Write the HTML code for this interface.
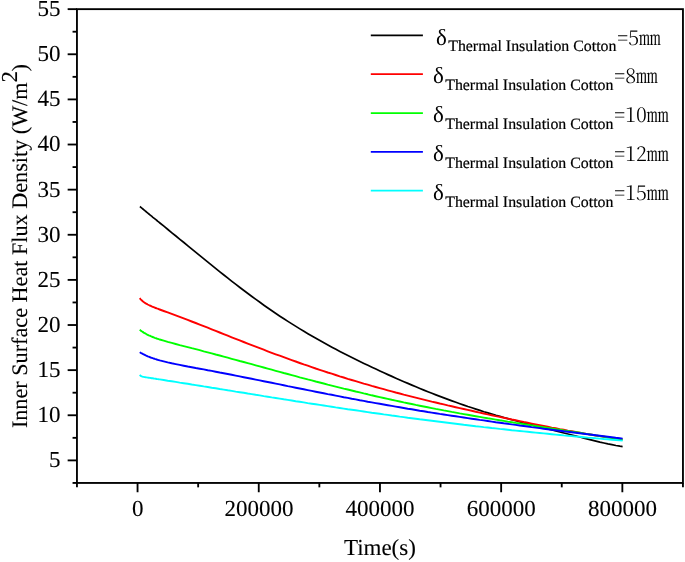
<!DOCTYPE html>
<html lang="en">
<head>
<meta charset="utf-8">
<title>Inner Surface Heat Flux Density</title>
<style>
html,body{margin:0;padding:0;background:#fff;}
body{width:685px;height:562px;overflow:hidden;}
svg{display:block;text-rendering:geometricPrecision;}
.t{font-family:"Liberation Serif","Noto Serif CJK SC",serif;fill:#000;}
.hw{font-family:"Noto Serif CJK SC","Liberation Serif",serif;font-feature-settings:"hwid";font-weight:300;fill:#000;}
</style>
</head>
<body>
<svg width="685" height="562" viewBox="0 0 685 562">
<rect width="685" height="562" fill="#ffffff"/>

<g stroke="#000" stroke-width="1.85" fill="none" stroke-linecap="butt">
<rect x="76.95" y="9.15" width="606.00" height="473.80"/>
<line x1="67.65" y1="9.15" x2="76.95" y2="9.15"/>
<line x1="72.55" y1="31.71" x2="76.95" y2="31.71"/>
<line x1="67.65" y1="54.27" x2="76.95" y2="54.27"/>
<line x1="72.55" y1="76.84" x2="76.95" y2="76.84"/>
<line x1="67.65" y1="99.40" x2="76.95" y2="99.40"/>
<line x1="72.55" y1="121.96" x2="76.95" y2="121.96"/>
<line x1="67.65" y1="144.52" x2="76.95" y2="144.52"/>
<line x1="72.55" y1="167.08" x2="76.95" y2="167.08"/>
<line x1="67.65" y1="189.65" x2="76.95" y2="189.65"/>
<line x1="72.55" y1="212.21" x2="76.95" y2="212.21"/>
<line x1="67.65" y1="234.77" x2="76.95" y2="234.77"/>
<line x1="72.55" y1="257.33" x2="76.95" y2="257.33"/>
<line x1="67.65" y1="279.89" x2="76.95" y2="279.89"/>
<line x1="72.55" y1="302.45" x2="76.95" y2="302.45"/>
<line x1="67.65" y1="325.02" x2="76.95" y2="325.02"/>
<line x1="72.55" y1="347.58" x2="76.95" y2="347.58"/>
<line x1="67.65" y1="370.14" x2="76.95" y2="370.14"/>
<line x1="72.55" y1="392.70" x2="76.95" y2="392.70"/>
<line x1="67.65" y1="415.26" x2="76.95" y2="415.26"/>
<line x1="72.55" y1="437.83" x2="76.95" y2="437.83"/>
<line x1="67.65" y1="460.39" x2="76.95" y2="460.39"/>
<line x1="72.55" y1="482.95" x2="76.95" y2="482.95"/>
<line x1="76.95" y1="482.95" x2="76.95" y2="487.35"/>
<line x1="137.55" y1="482.95" x2="137.55" y2="492.25"/>
<line x1="198.15" y1="482.95" x2="198.15" y2="487.35"/>
<line x1="258.75" y1="482.95" x2="258.75" y2="492.25"/>
<line x1="319.35" y1="482.95" x2="319.35" y2="487.35"/>
<line x1="379.95" y1="482.95" x2="379.95" y2="492.25"/>
<line x1="440.55" y1="482.95" x2="440.55" y2="487.35"/>
<line x1="501.15" y1="482.95" x2="501.15" y2="492.25"/>
<line x1="561.75" y1="482.95" x2="561.75" y2="487.35"/>
<line x1="622.35" y1="482.95" x2="622.35" y2="492.25"/>
<line x1="682.95" y1="482.95" x2="682.95" y2="487.35"/>
</g>
<g fill="none" stroke-width="2" stroke-linejoin="round" stroke-linecap="butt">
<polyline stroke="#000000" stroke-width="1.7" points="139.9,206.5 140.9,207.3 141.9,208.2 142.9,209.0 143.9,209.8 144.9,210.7 145.9,211.5 146.9,212.3 147.9,213.2 148.9,214.0 149.9,214.8 150.9,215.6 151.9,216.4 152.9,217.3 153.9,218.1 154.9,218.9 155.9,219.7 156.9,220.5 157.9,221.4 158.9,222.2 159.9,223.0 163.9,226.2 167.9,229.5 171.9,232.8 175.9,236.0 179.9,239.3 183.9,242.5 187.9,245.8 191.9,249.1 195.9,252.4 199.9,255.6 203.9,258.9 207.9,262.1 211.9,265.4 215.9,268.6 219.9,271.8 223.9,275.0 227.9,278.2 231.9,281.3 235.9,284.4 239.9,287.5 243.9,290.5 247.9,293.5 251.9,296.5 255.9,299.4 259.9,302.3 263.9,305.2 267.9,308.0 271.9,310.8 275.9,313.5 279.9,316.2 283.9,318.8 287.9,321.4 291.9,323.9 295.9,326.4 299.9,328.9 303.9,331.3 307.9,333.7 311.9,336.0 315.9,338.3 319.9,340.6 323.9,342.8 327.9,345.0 331.9,347.2 335.9,349.3 339.9,351.4 343.9,353.5 347.9,355.5 351.9,357.5 355.9,359.5 359.9,361.5 363.9,363.4 367.9,365.3 371.9,367.2 375.9,369.1 379.9,371.0 383.9,372.8 387.9,374.6 391.9,376.4 395.9,378.2 399.9,380.0 403.9,381.7 407.9,383.4 411.9,385.1 415.9,386.8 419.9,388.5 423.9,390.1 427.9,391.7 431.9,393.3 435.9,394.9 439.9,396.4 443.9,397.9 447.9,399.4 451.9,400.9 455.9,402.3 459.9,403.7 463.9,405.1 467.9,406.5 471.9,407.8 475.9,409.1 479.9,410.4 483.9,411.7 487.9,412.9 491.9,414.1 495.9,415.3 499.9,416.4 503.9,417.5 507.9,418.6 511.9,419.7 515.9,420.8 519.9,421.9 523.9,422.9 527.9,423.9 531.9,424.9 535.9,425.9 539.9,426.9 543.9,427.9 547.9,428.9 551.9,429.9 555.9,430.9 559.9,432.0 563.9,433.0 567.9,434.0 571.9,435.0 575.9,436.0 579.9,437.0 583.9,438.1 587.9,439.1 591.9,440.1 595.9,441.1 599.9,442.1 603.9,443.0 607.9,443.9 611.9,444.7 615.9,445.5 619.9,446.2 622.6,446.6"/>
<polyline stroke="#ff0000" stroke-width="1.9" points="139.7,298.2 140.7,299.3 141.7,300.3 142.7,301.2 143.7,302.0 144.7,302.7 145.7,303.4 146.7,303.9 147.7,304.5 148.7,305.0 149.7,305.5 150.7,305.9 151.7,306.4 152.7,306.8 153.7,307.2 154.7,307.6 155.7,308.0 156.7,308.4 157.7,308.7 158.7,309.1 159.7,309.5 163.7,311.0 167.7,312.4 171.7,313.9 175.7,315.4 179.7,316.9 183.7,318.4 187.7,319.9 191.7,321.5 195.7,323.0 199.7,324.6 203.7,326.2 207.7,327.7 211.7,329.3 215.7,330.9 219.7,332.5 223.7,334.1 227.7,335.7 231.7,337.3 235.7,338.8 239.7,340.4 243.7,342.0 247.7,343.6 251.7,345.1 255.7,346.7 259.7,348.2 263.7,349.7 267.7,351.3 271.7,352.8 275.7,354.3 279.7,355.7 283.7,357.2 287.7,358.7 291.7,360.1 295.7,361.5 299.7,363.0 303.7,364.4 307.7,365.7 311.7,367.1 315.7,368.5 319.7,369.8 323.7,371.1 327.7,372.5 331.7,373.7 335.7,375.0 339.7,376.3 343.7,377.5 347.7,378.8 351.7,380.0 355.7,381.2 359.7,382.4 363.7,383.6 367.7,384.7 371.7,385.9 375.7,387.0 379.7,388.1 383.7,389.2 387.7,390.3 391.7,391.4 395.7,392.5 399.7,393.5 403.7,394.6 407.7,395.6 411.7,396.6 415.7,397.6 419.7,398.6 423.7,399.6 427.7,400.6 431.7,401.6 435.7,402.5 439.7,403.5 443.7,404.4 447.7,405.4 451.7,406.3 455.7,407.2 459.7,408.1 463.7,409.0 467.7,409.9 471.7,410.8 475.7,411.7 479.7,412.6 483.7,413.5 487.7,414.4 491.7,415.2 495.7,416.1 499.7,416.9 503.7,417.8 507.7,418.6 511.7,419.5 515.7,420.3 519.7,421.1 523.7,422.0 527.7,422.8 531.7,423.6 535.7,424.4 539.7,425.2 543.7,426.0 547.7,426.8 551.7,427.6 555.7,428.3 559.7,429.1 563.7,429.8 567.7,430.6 571.7,431.3 575.7,432.0 579.7,432.7 583.7,433.4 587.7,434.1 591.7,434.8 595.7,435.5 599.7,436.1 603.7,436.7 607.7,437.3 611.7,437.9 615.7,438.5 619.7,439.0 622.6,439.4"/>
<polyline stroke="#00ff00" stroke-width="1.9" points="139.7,329.8 140.7,330.6 141.7,331.3 142.7,331.9 143.7,332.6 144.7,333.2 145.7,333.7 146.7,334.3 147.7,334.8 148.7,335.3 149.7,335.7 150.7,336.2 151.7,336.6 152.7,337.0 153.7,337.4 154.7,337.8 155.7,338.1 156.7,338.5 157.7,338.8 158.7,339.2 159.7,339.5 163.7,340.7 167.7,341.9 171.7,342.9 175.7,344.0 179.7,345.1 183.7,346.1 187.7,347.1 191.7,348.2 195.7,349.2 199.7,350.2 203.7,351.3 207.7,352.3 211.7,353.4 215.7,354.5 219.7,355.5 223.7,356.6 227.7,357.7 231.7,358.8 235.7,359.9 239.7,361.0 243.7,362.0 247.7,363.1 251.7,364.2 255.7,365.3 259.7,366.4 263.7,367.5 267.7,368.6 271.7,369.7 275.7,370.8 279.7,371.9 283.7,373.0 287.7,374.0 291.7,375.1 295.7,376.2 299.7,377.3 303.7,378.3 307.7,379.4 311.7,380.4 315.7,381.5 319.7,382.5 323.7,383.5 327.7,384.6 331.7,385.6 335.7,386.6 339.7,387.6 343.7,388.6 347.7,389.5 351.7,390.5 355.7,391.5 359.7,392.4 363.7,393.4 367.7,394.3 371.7,395.3 375.7,396.2 379.7,397.1 383.7,398.0 387.7,398.9 391.7,399.8 395.7,400.6 399.7,401.5 403.7,402.4 407.7,403.2 411.7,404.0 415.7,404.9 419.7,405.7 423.7,406.5 427.7,407.3 431.7,408.1 435.7,408.9 439.7,409.6 443.7,410.4 447.7,411.1 451.7,411.9 455.7,412.6 459.7,413.4 463.7,414.1 467.7,414.8 471.7,415.5 475.7,416.2 479.7,416.9 483.7,417.6 487.7,418.3 491.7,418.9 495.7,419.6 499.7,420.3 503.7,420.9 507.7,421.6 511.7,422.2 515.7,422.9 519.7,423.5 523.7,424.1 527.7,424.8 531.7,425.4 535.7,426.0 539.7,426.6 543.7,427.3 547.7,427.9 551.7,428.5 555.7,429.1 559.7,429.7 563.7,430.4 567.7,431.0 571.7,431.6 575.7,432.2 579.7,432.8 583.7,433.5 587.7,434.1 591.7,434.7 595.7,435.4 599.7,436.0 603.7,436.6 607.7,437.3 611.7,438.0 615.7,438.6 619.7,439.3 622.6,439.8"/>
<polyline stroke="#00ffff" stroke-width="1.9" points="139.7,374.8 140.7,375.9 141.7,376.4 142.7,376.7 143.7,376.9 144.7,377.1 145.7,377.3 146.7,377.4 147.7,377.6 148.7,377.7 149.7,377.9 150.7,378.0 151.7,378.2 152.7,378.3 153.7,378.5 154.7,378.6 155.7,378.8 156.7,379.0 157.7,379.1 158.7,379.3 159.7,379.4 163.7,380.0 167.7,380.7 171.7,381.3 175.7,381.9 179.7,382.6 183.7,383.2 187.7,383.8 191.7,384.5 195.7,385.1 199.7,385.7 203.7,386.4 207.7,387.0 211.7,387.7 215.7,388.3 219.7,389.0 223.7,389.6 227.7,390.3 231.7,390.9 235.7,391.6 239.7,392.2 243.7,392.8 247.7,393.5 251.7,394.1 255.7,394.8 259.7,395.4 263.7,396.1 267.7,396.7 271.7,397.4 275.7,398.0 279.7,398.6 283.7,399.3 287.7,399.9 291.7,400.5 295.7,401.2 299.7,401.8 303.7,402.4 307.7,403.1 311.7,403.7 315.7,404.3 319.7,404.9 323.7,405.5 327.7,406.1 331.7,406.7 335.7,407.4 339.7,408.0 343.7,408.6 347.7,409.2 351.7,409.7 355.7,410.3 359.7,410.9 363.7,411.5 367.7,412.1 371.7,412.7 375.7,413.2 379.7,413.8 383.7,414.4 387.7,414.9 391.7,415.5 395.7,416.0 399.7,416.6 403.7,417.1 407.7,417.7 411.7,418.2 415.7,418.7 419.7,419.3 423.7,419.8 427.7,420.3 431.7,420.8 435.7,421.3 439.7,421.8 443.7,422.3 447.7,422.8 451.7,423.3 455.7,423.8 459.7,424.3 463.7,424.8 467.7,425.2 471.7,425.7 475.7,426.2 479.7,426.6 483.7,427.1 487.7,427.5 491.7,428.0 495.7,428.4 499.7,428.9 503.7,429.3 507.7,429.7 511.7,430.2 515.7,430.6 519.7,431.0 523.7,431.4 527.7,431.8 531.7,432.2 535.7,432.6 539.7,433.0 543.7,433.4 547.7,433.8 551.7,434.2 555.7,434.6 559.7,435.0 563.7,435.4 567.7,435.7 571.7,436.1 575.7,436.5 579.7,436.8 583.7,437.2 587.7,437.6 591.7,437.9 595.7,438.3 599.7,438.6 603.7,439.0 607.7,439.3 611.7,439.7 615.7,440.0 619.7,440.4 622.6,440.6"/>
<polyline stroke="#0000ff" stroke-width="1.9" points="139.7,352.2 140.7,352.8 141.7,353.3 142.7,353.9 143.7,354.4 144.7,354.9 145.7,355.4 146.7,355.8 147.7,356.3 148.7,356.7 149.7,357.1 150.7,357.5 151.7,357.8 152.7,358.2 153.7,358.5 154.7,358.9 155.7,359.2 156.7,359.5 157.7,359.8 158.7,360.1 159.7,360.4 163.7,361.4 167.7,362.4 171.7,363.3 175.7,364.1 179.7,364.9 183.7,365.7 187.7,366.5 191.7,367.2 195.7,368.0 199.7,368.7 203.7,369.4 207.7,370.2 211.7,370.9 215.7,371.7 219.7,372.5 223.7,373.2 227.7,374.0 231.7,374.8 235.7,375.6 239.7,376.4 243.7,377.2 247.7,378.0 251.7,378.8 255.7,379.6 259.7,380.4 263.7,381.2 267.7,382.0 271.7,382.8 275.7,383.6 279.7,384.4 283.7,385.2 287.7,386.1 291.7,386.9 295.7,387.7 299.7,388.5 303.7,389.3 307.7,390.1 311.7,390.9 315.7,391.7 319.7,392.5 323.7,393.3 327.7,394.1 331.7,394.8 335.7,395.6 339.7,396.4 343.7,397.2 347.7,397.9 351.7,398.7 355.7,399.4 359.7,400.2 363.7,400.9 367.7,401.7 371.7,402.4 375.7,403.1 379.7,403.8 383.7,404.5 387.7,405.2 391.7,405.9 395.7,406.6 399.7,407.3 403.7,408.0 407.7,408.7 411.7,409.3 415.7,410.0 419.7,410.7 423.7,411.3 427.7,412.0 431.7,412.6 435.7,413.2 439.7,413.9 443.7,414.5 447.7,415.1 451.7,415.7 455.7,416.3 459.7,416.9 463.7,417.5 467.7,418.1 471.7,418.7 475.7,419.3 479.7,419.9 483.7,420.4 487.7,421.0 491.7,421.6 495.7,422.2 499.7,422.7 503.7,423.3 507.7,423.8 511.7,424.4 515.7,424.9 519.7,425.5 523.7,426.0 527.7,426.5 531.7,427.1 535.7,427.6 539.7,428.1 543.7,428.7 547.7,429.2 551.7,429.7 555.7,430.2 559.7,430.7 563.7,431.3 567.7,431.8 571.7,432.3 575.7,432.8 579.7,433.3 583.7,433.8 587.7,434.3 591.7,434.8 595.7,435.3 599.7,435.8 603.7,436.3 607.7,436.8 611.7,437.3 615.7,437.8 619.7,438.2 622.6,438.6"/>
</g>
<g class="t" font-size="23" stroke="#000" stroke-width="0.1">
<text x="60.5" y="16.10" text-anchor="end">55</text>
<text x="60.5" y="61.22" text-anchor="end">50</text>
<text x="60.5" y="106.35" text-anchor="end">45</text>
<text x="60.5" y="151.47" text-anchor="end">40</text>
<text x="60.5" y="196.60" text-anchor="end">35</text>
<text x="60.5" y="241.72" text-anchor="end">30</text>
<text x="60.5" y="286.84" text-anchor="end">25</text>
<text x="60.5" y="331.97" text-anchor="end">20</text>
<text x="60.5" y="377.09" text-anchor="end">15</text>
<text x="60.5" y="422.21" text-anchor="end">10</text>
<text x="60.5" y="467.34" text-anchor="end">5</text>
<text x="137.70" y="516.1" text-anchor="middle">0</text>
<text x="258.90" y="516.1" text-anchor="middle">200000</text>
<text x="380.10" y="516.1" text-anchor="middle">400000</text>
<text x="501.30" y="516.1" text-anchor="middle">600000</text>
<text x="622.50" y="516.1" text-anchor="middle">800000</text>
<text x="379.9" y="555" text-anchor="middle">Time(s)</text>
<text transform="translate(27.2 246.1) rotate(-90)" text-anchor="middle" font-size="22.2">Inner Surface Heat Flux Density (W/m<tspan dy="-10.5" dx="-0.1" font-size="22.8">2</tspan><tspan dy="10.5" dx="-0.3">)</tspan></text>
</g>
<line x1="370.8" y1="35.4" x2="422.9" y2="35.4" stroke="#000000" stroke-width="1.7"/>
<text class="t" x="436.0" y="44.6" font-size="23">δ</text>
<text class="t" x="448.2" y="51.3" font-size="15.87" stroke="#000" stroke-width="0.2">Thermal Insulation Cotton</text>
<text class="hw" x="617.3" y="44.6" font-size="19.3" textLength="43.40" lengthAdjust="spacingAndGlyphs">=5mm</text>
<line x1="370.8" y1="74.2" x2="422.9" y2="74.2" stroke="#ff0000" stroke-width="1.7"/>
<text class="t" x="433.0" y="83.4" font-size="23">δ</text>
<text class="t" x="445.2" y="90.1" font-size="15.87" stroke="#000" stroke-width="0.2">Thermal Insulation Cotton</text>
<text class="hw" x="614.3" y="83.4" font-size="19.3" textLength="43.40" lengthAdjust="spacingAndGlyphs">=8mm</text>
<line x1="370.8" y1="113.1" x2="422.9" y2="113.1" stroke="#00ff00" stroke-width="1.7"/>
<text class="t" x="433.0" y="122.3" font-size="23">δ</text>
<text class="t" x="445.2" y="129.0" font-size="15.87" stroke="#000" stroke-width="0.2">Thermal Insulation Cotton</text>
<text class="hw" x="614.3" y="122.3" font-size="19.3" textLength="54.25" lengthAdjust="spacingAndGlyphs">=10mm</text>
<line x1="370.8" y1="151.9" x2="422.9" y2="151.9" stroke="#0000ff" stroke-width="1.7"/>
<text class="t" x="433.0" y="161.1" font-size="23">δ</text>
<text class="t" x="445.2" y="167.8" font-size="15.87" stroke="#000" stroke-width="0.2">Thermal Insulation Cotton</text>
<text class="hw" x="614.3" y="161.1" font-size="19.3" textLength="54.25" lengthAdjust="spacingAndGlyphs">=12mm</text>
<line x1="370.8" y1="190.7" x2="422.9" y2="190.7" stroke="#00ffff" stroke-width="1.7"/>
<text class="t" x="433.0" y="199.9" font-size="23">δ</text>
<text class="t" x="445.2" y="206.6" font-size="15.87" stroke="#000" stroke-width="0.2">Thermal Insulation Cotton</text>
<text class="hw" x="614.3" y="199.9" font-size="19.3" textLength="54.25" lengthAdjust="spacingAndGlyphs">=15mm</text>
</svg>
</body>
</html>
